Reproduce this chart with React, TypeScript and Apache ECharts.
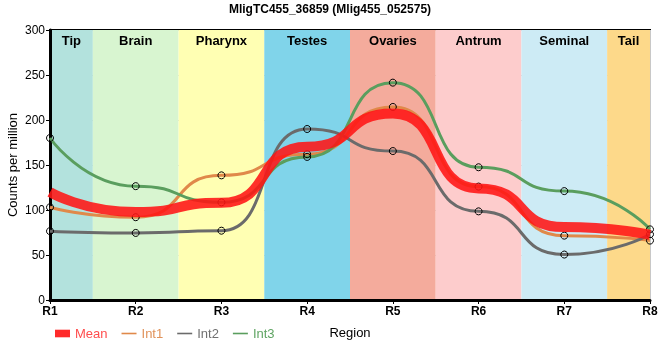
import React, { useEffect, useRef } from "react";
import * as echarts from "echarts";

const categories = ["R1", "R2", "R3", "R4", "R5", "R6", "R7", "R8"];
const int1 = [103, 92, 138.5, 162, 214.5, 126, 71.5, 66];
const int2 = [76.5, 74.5, 77, 190, 165.5, 98.5, 50.5, 73];
const int3 = [180, 126.5, 108.5, 159, 241.5, 147.5, 121, 78.5];
const meanVals = [119.8, 97.7, 108, 170.3, 207.2, 124, 81, 72.5];
const regionNames = ["Tip", "Brain", "Pharynx", "Testes", "Ovaries", "Antrum", "Seminal", "Tail"];
const regionStart = [1, 1.5, 2.5, 3.5, 4.5, 5.5, 6.5, 7.5];
const regionEnd = [1.5, 2.5, 3.5, 4.5, 5.5, 6.5, 7.5, 8];
const regionColors = ["#b3e2dd", "#d8f5d0", "#ffffb3", "#80d4ea", "#f4ab9c", "#fdcccc", "#cdebf5", "#fdd98a"];
const yTicks = [0, 50, 100, 150, 200, 250, 300];

const lineIcon = "path://M0,0L0,0M0,3h15v1.6H0zM15,7.6L15,7.6";
const FONT = "Liberation Sans, Arial, sans-serif";

export default function App() {
  const ref = useRef<HTMLDivElement>(null);
  useEffect(() => {
    if (!ref.current) return;
    const chart = echarts.init(ref.current, undefined, { renderer: "svg" });
    const toPts = (arr: number[]) => arr.map((v, i) => [i + 1, v]);
    const markerStyle = { color: "rgba(0,0,0,0)", borderColor: "#000", borderWidth: 1 };
    const intSeries = (name: string, data: number[], color: string) => ({
      name,
      type: "line",
      data: toPts(data),
      smooth: 0.6,
      smoothMonotone: "x",
      symbol: "circle",
      symbolSize: 7,
      itemStyle: { ...markerStyle },
      lineStyle: { color, width: 3 },
      color,
      z: 3,
    });
    chart.setOption({
      animation: false,
      title: {
        text: "MligTC455_36859 (Mlig455_052575)",
        left: "center",
        top: -2,
        textStyle: { fontSize: 12, fontWeight: "bold", color: "#000", fontFamily: FONT },
      },
      grid: {
        left: 50, right: 10, top: 30, bottom: 60,
        outerBoundsMode: "none",
        containLabel: false,
        show: true, borderColor: "#000", borderWidth: 2, backgroundColor: "transparent",
      },
      legend: {
        left: 50,
        top: 322,
        itemWidth: 15,
        itemHeight: 7.6,
        itemGap: 14,
        textStyle: { fontSize: 13, fontFamily: FONT },
        data: [
          { name: "Mean", icon: "rect", itemStyle: { color: "#ff2a2a", borderWidth: 0 }, textStyle: { color: "#ff4d4d" } },
          { name: "Int1", icon: lineIcon, itemStyle: { color: "#e0894a", borderWidth: 0 }, textStyle: { color: "#e0925a" } },
          { name: "Int2", icon: lineIcon, itemStyle: { color: "#6b6b6b", borderWidth: 0 }, textStyle: { color: "#707070" } },
          { name: "Int3", icon: lineIcon, itemStyle: { color: "#5a9e5e", borderWidth: 0 }, textStyle: { color: "#5fa463" } },
        ],
      },
      xAxis: {
        type: "value",
        min: 1,
        max: 8,
        interval: 1,
        name: "Region",
        nameLocation: "middle",
        nameGap: 26,
        nameTextStyle: { fontSize: 13, color: "#000", fontFamily: FONT },
        axisLine: { lineStyle: { color: "#000", width: 3 } },
        axisTick: { show: true, length: 4, lineStyle: { color: "#000" } },
        axisLabel: {
          formatter: (v: number) => categories[Math.round(v) - 1] ?? "",
          fontSize: 12,
          fontWeight: "bold",
          color: "#000",
          margin: 5,
          fontFamily: FONT,
        },
        splitLine: { show: true, lineStyle: { color: "#c8c8c8", width: 1 } },
      },
      yAxis: {
        type: "value",
        min: yTicks[0],
        max: yTicks[yTicks.length - 1],
        interval: 50,
        name: "Counts per million",
        nameLocation: "middle",
        nameMoveOverlap: false,
        nameGap: 31,
        nameTextStyle: { fontSize: 13, color: "#000", fontFamily: FONT },
        axisLine: { show: true, lineStyle: { color: "#000", width: 3 } },
        axisTick: { show: true, length: 4, lineStyle: { color: "#000" } },
        axisLabel: { fontSize: 12, color: "#000", margin: 5, fontFamily: FONT },
        splitLine: { show: true, lineStyle: { color: "#c8c8c8", width: 1 } },
      },
      series: [
        {
          name: "Mean",
          type: "line",
          data: toPts(meanVals),
          smooth: 0.6,
          smoothMonotone: "x",
          symbol: "none",
          color: "#ff2a2a",
          lineStyle: { color: "rgba(255,20,20,0.88)", width: 10 },
          z: 4,
          markArea: {
            silent: true,
            label: {
              show: true,
              position: "insideTop",
              distance: 4,
              fontSize: 13,
              fontWeight: "bold",
              color: "#000",
              fontFamily: FONT,
            },
            data: regionNames.map((n, i) => [
              { name: n, xAxis: regionStart[i], yAxis: yTicks[yTicks.length - 1], itemStyle: { color: regionColors[i] } },
              { xAxis: regionEnd[i], yAxis: yTicks[0] },
            ]),
            z: 0,
          },
        },
        intSeries("Int1", int1, "#e0894a"),
        intSeries("Int2", int2, "#6b6b6b"),
        intSeries("Int3", int3, "#5a9e5e"),
      ],
    });
    return () => chart.dispose();
  }, []);
  return <div ref={ref} style={{ position: "fixed", left: 0, top: 0, width: 660, height: 360 }} />;
}
